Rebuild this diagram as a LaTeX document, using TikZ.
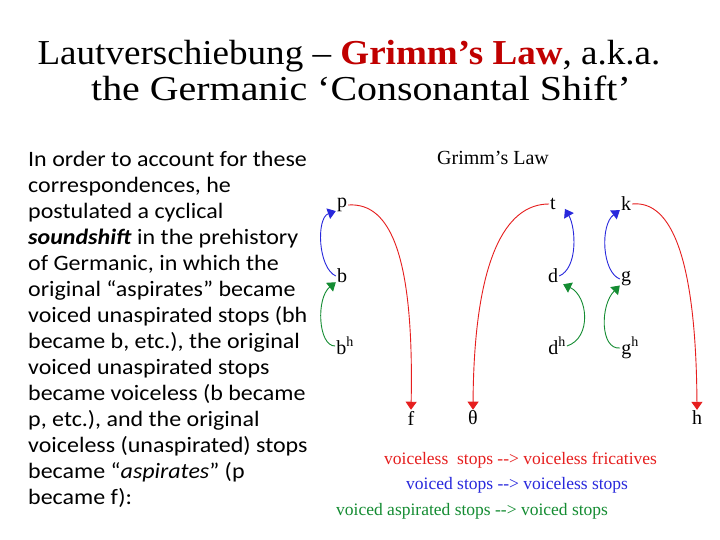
\documentclass[tikz,border=0pt]{standalone}
\usepackage{fontspec}
\setmainfont{Liberation Serif}
\newfontfamily\bodyfont[FakeStretch=1.09]{Carlito}
\newfontfamily\titlefonta[FakeStretch=1.06]{Liberation Serif}
\newfontfamily\titlefontb[FakeStretch=1.14]{Liberation Serif}
\usetikzlibrary{arrows.meta}
\definecolor{titlered}{RGB}{192,0,0}
\definecolor{arrred}{RGB}{230,30,30}
\definecolor{arrblue}{RGB}{40,40,220}
\definecolor{arrgreen}{RGB}{20,140,50}
\tikzset{
  letter/.style={inner sep=1pt, font=\fontsize{20}{24}\selectfont},
  legend/.style={anchor=west, inner sep=0pt, font=\fontsize{17.5}{20}\selectfont},
  titleline/.style={anchor=base, inner sep=0pt},
  shiftarr/.style={-{Triangle[length=8pt,width=11pt]}, line width=0.9pt},
  redarr/.style={shiftarr, draw=arrred},
  bluearr/.style={shiftarr, draw=arrblue},
  greenarr/.style={shiftarr, draw=arrgreen}
}
\begin{document}
\begin{tikzpicture}[x=1pt,y=-1pt]
\useasboundingbox (0,0) rectangle (720,540);
\fill[white] (0,0) rectangle (720,540);
% title
\node[titleline, font=\titlefonta\fontsize{35}{40}\selectfont] (title1) at (349,65)
  {Lautverschiebung – \textcolor{titlered}{\textbf{Grimm’s Law}}, a.k.a.};
\node[titleline, font=\titlefontb\fontsize{35}{40}\selectfont] (title2) at (361,101)
  {the Germanic ‘Consonantal Shift’};
% body text
\node[anchor=north west, inner sep=0pt, align=left, font=\bodyfont\fontsize{22}{26}\selectfont] (body) at (28,151)
  {In order to account for these\\
   correspondences, he\\
   postulated a cyclical\\
   \textbf{\textit{soundshift}} in the prehistory\\
   of Germanic, in which the\\
   original “aspirates” became\\
   voiced unaspirated stops (bh\\
   became b, etc.), the original\\
   voiced unaspirated stops\\
   became voiceless (b became\\
   p, etc.), and the original\\
   voiceless (unaspirated) stops\\
   became “\textit{aspirates}” (p\\
   became f):};
% diagram
\node[inner sep=0pt, font=\fontsize{20}{24}\selectfont] (glaw) at (493,158) {Grimm's Law};
\node[letter] (p) at (342,205) {p};
\node[letter] (b) at (342,276) {b};
\node[letter] (bh) at (345,346) {b\textsuperscript{h}};
\node[letter] (t) at (553,204) {t};
\node[letter] (d) at (553,276) {d};
\node[letter] (dh) at (557,346) {d\textsuperscript{h}};
\node[letter] (k) at (626,204) {k};
\node[letter] (g) at (626,279) {g};
\node[letter] (gh) at (630,348) {g\textsuperscript{h}};
\node[letter] (f) at (411,418) {f};
\node[letter] (th) at (473,418) {θ};
\node[letter] (h) at (697,418) {h};
% red arrows
\draw[redarr] (p.east) .. controls (392,202) and (414,260) .. (f.north);
\draw[redarr] (t.west) .. controls (505,204) and (474,260) .. (th.north);
\draw[redarr] (k.east) .. controls (672,200) and (696,260) .. (h.north);
% blue arrows
\draw[bluearr] (b.west) .. controls (318,268) and (316,218) .. ([yshift=2pt]p.south west);
\draw[bluearr] (d.east) .. controls (578,268) and (576,228) .. ([xshift=8pt,yshift=2pt]t.south east);
\draw[bluearr] (g.west) .. controls (602,272) and (600,225) .. ([yshift=2pt]k.south west);
% green arrows
\draw[greenarr] (bh.west) .. controls (318,346) and (316,298) .. ([yshift=2pt]b.south west);
\draw[greenarr] (dh.east) .. controls (592,338) and (588,296) .. ([xshift=4pt]d.south east);
\draw[greenarr] (gh.west) .. controls (600,350) and (600,305) .. ([yshift=2pt]g.south west);
% legend
\node[legend, text=arrred] (l1) at (384,460) {voiceless\ \ stops -{}-> voiceless fricatives};
\node[legend, text=arrblue] (l2) at (406,485) {voiced stops -{}-> voiceless stops};
\node[legend, text=arrgreen] (l3) at (336,511) {voiced aspirated stops -{}-> voiced stops};
\end{tikzpicture}
\end{document}
